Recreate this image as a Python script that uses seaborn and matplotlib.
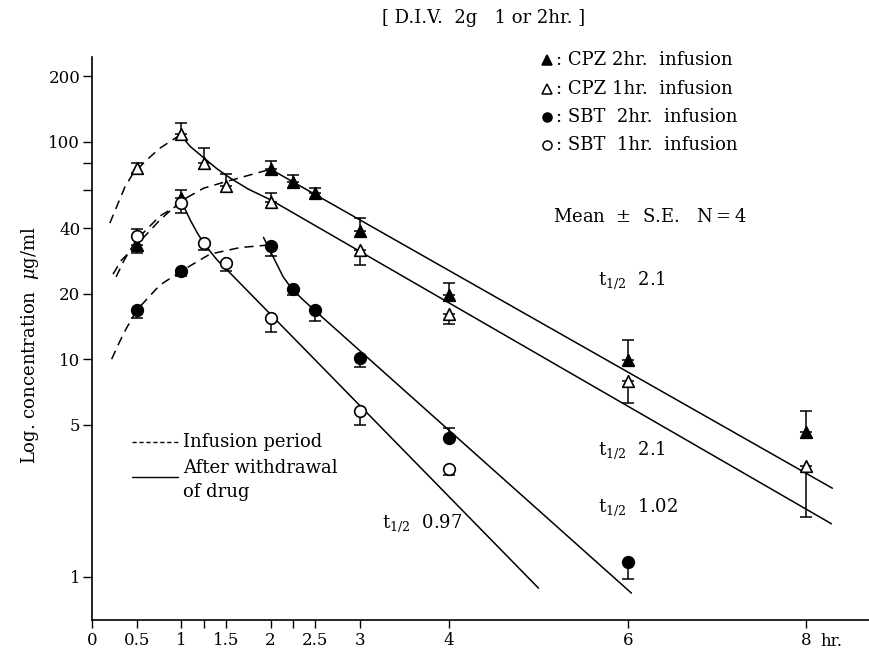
import matplotlib
matplotlib.use("Agg")
import matplotlib.pyplot as plt
from matplotlib.lines import Line2D
from matplotlib.ticker import FixedLocator, NullFormatter
import seaborn as sns


# mean serum levels (ug/ml) and the visible side of each S.E. bar
cpz2_t = [0.5, 1, 2, 2.25, 2.5, 3, 4, 6, 8]
cpz2_c = [33.5, 55, 74.7, 65.5, 57.9, 39, 19.7, 9.9, 4.64]
cpz2_up = [0, 5, 6.8, 4.9, 3.6, 5.4, 2.6, 2.3, 1.16]
cpz2_dn = [2.8, 0, 0, 0, 0, 0, 0, 0, 0]

cpz1_t = [0.5, 1, 1.25, 1.5, 2, 3, 4, 6, 8]
cpz1_c = [75.5, 108, 79.6, 62.6, 53, 31.6, 16.1, 7.9, 3.22]
cpz1_up = [4, 13.5, 13.7, 8.2, 5, 0, 0, 0, 0]
cpz1_dn = [4, 0, 0, 0, 0, 4.5, 1.6, 1.6, 1.33]

sbt2_t = [0.5, 1, 2, 2.25, 2.5, 3, 4, 6]
sbt2_c = [16.8, 25.4, 33.3, 21.0, 16.8, 10.1, 4.33, 1.17]
sbt2_up = [0, 0, 0, 0, 0, 0, 0.47, 0]
sbt2_dn = [1.3, 1.2, 3.6, 1.3, 1.8, 0.9, 0, 0.19]

sbt1_t = [0.5, 1, 1.25, 1.5, 2, 3, 4]
sbt1_c = [36.9, 52.1, 34.1, 27.6, 15.4, 5.78, 3.14]
sbt1_up = [2.8, 0, 0, 0, 0, 0, 0]
sbt1_dn = [0, 5.2, 2.3, 2.3, 2.0, 0.8, 0.2]

# fitted curves: infusion period (dashed) and after withdrawal (solid)
cpz1_inf_t = [0.2, 0.277, 0.37, 0.462, 0.613, 0.76, 0.99]
cpz1_inf_c = [42.2, 50.3, 62.1, 71.6, 82.4, 93.3, 107.5]
cpz1_post_t = [0.99, 1.1, 1.28, 1.4, 1.55, 1.75, 2.0, 8.28]
cpz1_post_c = [107.5, 95, 82.4, 75, 67.9, 60.5, 54.0, 1.75]

cpz2_inf_t = [0.235, 0.33, 0.5, 0.76, 1.0, 1.25, 1.5, 1.77, 2.0]
cpz2_inf_c = [24.6, 28.5, 33.5, 43.6, 53.5, 61.1, 65.5, 70.3, 74.7]
cpz2_post_t = [2.0, 8.29]
cpz2_post_c = [74.7, 2.55]

sbt1_inf_t = [0.27, 0.36, 0.5, 0.76, 1.0]
sbt1_inf_c = [23.9, 28.5, 35.5, 45.5, 52.1]
sbt1_post_t = [1.02, 1.1, 1.18, 1.25, 1.4, 1.55, 5.0]
sbt1_post_c = [51.2, 43.6, 38.0, 34.1, 28.6, 24.8, 0.885]

sbt2_inf_t = [0.22, 0.3, 0.37, 0.5, 0.76, 1.0, 1.32, 1.66, 1.95]
sbt2_inf_c = [10.0, 11.8, 13.5, 16.8, 21.9, 25.4, 30.4, 32.6, 33.4]
sbt2_post_t = [1.92, 1.99, 2.07, 2.14, 2.24, 2.36, 2.49, 6.04]
sbt2_post_c = [36.3, 31.8, 27.3, 23.9, 21.0, 18.8, 16.8, 0.84]

x_ticks = [0, 0.5, 1, 1.25, 1.5, 2, 2.25, 2.5, 3, 4, 6, 8]
x_labels = ["0", "0.5", "1", "", "1.5", "2", "", "2.5", "3", "4", "6", "8"]
y_ticks = [1, 5, 10, 20, 40, 100, 200]
y_minor = [60, 80]

sns.set_style("ticks", {"text.color": "black", "axes.edgecolor": "black",
                        "xtick.color": "black", "ytick.color": "black",
                        "axes.labelcolor": "black"})
plt.rcParams["font.family"] = ["DejaVu Serif"]
plt.rcParams["mathtext.fontset"] = "dejavuserif"

W, H = 869, 652
fig = plt.figure(figsize=(W / 100, H / 100), dpi=100)
ax = fig.add_axes([92 / W, 32 / H, 777 / W, 563 / H])

dash = dict(color="black", lw=1.1, linestyle=(0, (6, 4)))
solid = dict(color="black", lw=1.1)

for t, c in [(cpz1_inf_t, cpz1_inf_c), (cpz2_inf_t, cpz2_inf_c),
             (sbt1_inf_t, sbt1_inf_c), (sbt2_inf_t, sbt2_inf_c)]:
    sns.lineplot(x=t, y=c, sort=False, estimator=None, ax=ax, **dash)

for t, c in [(cpz1_post_t, cpz1_post_c), (cpz2_post_t, cpz2_post_c),
             (sbt1_post_t, sbt1_post_c), (sbt2_post_t, sbt2_post_c)]:
    sns.lineplot(x=t, y=c, sort=False, estimator=None, ax=ax, **solid)

series = [
    (cpz2_t, cpz2_c, cpz2_up, cpz2_dn, "^", "black"),
    (cpz1_t, cpz1_c, cpz1_up, cpz1_dn, "^", "white"),
    (sbt2_t, sbt2_c, sbt2_up, sbt2_dn, "o", "black"),
    (sbt1_t, sbt1_c, sbt1_up, sbt1_dn, "o", "white"),
]
for t, c, up, dn, m, fc in series:
    ax.errorbar(t, c, yerr=[dn, up], fmt="none", ecolor="black",
                elinewidth=1.1, capsize=4.5, capthick=1.1, zorder=3)
    sns.scatterplot(x=t, y=c, marker=m, s=70, color=fc, edgecolor="black",
                    linewidth=1.2, ax=ax, zorder=4)

ax.set_yscale("log")
ax.set_xlim(0, 8.7)
ax.set_ylim(0.632, 245)
ax.set_xticks(x_ticks)
ax.set_xticklabels(x_labels)
ax.set_yticks(y_ticks)
ax.set_yticklabels([str(v) for v in y_ticks])
ax.yaxis.set_minor_locator(FixedLocator(y_minor))
ax.yaxis.set_minor_formatter(NullFormatter())
ax.tick_params(axis="y", which="both", direction="out", length=6.5,
               width=1.0, pad=2, labelsize=12)
ax.tick_params(axis="x", direction="out", length=5.5, width=1.0, pad=3,
               labelsize=12)
sns.despine(ax=ax)
for s in ["left", "bottom"]:
    ax.spines[s].set_linewidth(1.2)
ax.set_xlabel("")
ax.set_ylabel("")

fs = 13
fig.text(30 / W, 1 - 345 / H, r"Log. concentration  $\mu$g/ml", rotation=90,
         ha="center", va="center", fontsize=fs)
fig.text(820 / W, 1 - 641 / H, "hr.", ha="left", va="center", fontsize=12)

fig.text(484 / W, 1 - 18 / H, "[ D.I.V.  2g   1 or 2hr. ]", ha="center",
         va="center", fontsize=fs)

legend_rows = [
    ("^", "black", ": CPZ 2hr.  infusion", 60),
    ("^", "white", ": CPZ 1hr.  infusion", 88.5),
    ("o", "black", ": SBT  2hr.  infusion", 117),
    ("o", "white", ": SBT  1hr.  infusion", 145),
]
for m, fc, label, py in legend_rows:
    fig.add_artist(Line2D([547 / W], [1 - py / H], marker=m, ms=6.5,
                          mfc=fc, mec="black", mew=1.1, ls="none",
                          transform=fig.transFigure))
    fig.text(556 / W, 1 - py / H, label, ha="left", va="center", fontsize=fs)

fig.text(553 / W, 1 - 217 / H, r"Mean  $\pm$  S.E.   N$=$4", ha="left",
         va="center", fontsize=fs)

half_lives = [("2.1", 598, 280), ("2.1", 598, 450), ("1.02", 598, 507),
              ("0.97", 382, 523)]
for val, px, py in half_lives:
    fig.text(px / W, 1 - py / H, r"t$_{1/2}$  " + val, ha="left",
             va="center", fontsize=fs)

fig.add_artist(Line2D([132 / W, 178 / W], [1 - 442 / H, 1 - 442 / H],
                      color="black", lw=1.0, linestyle=(0, (3, 2)),
                      transform=fig.transFigure))
fig.text(183 / W, 1 - 442 / H, "Infusion period", ha="left", va="center",
         fontsize=fs)
fig.add_artist(Line2D([132 / W, 178 / W], [1 - 477 / H, 1 - 477 / H],
                      color="black", lw=1.0, transform=fig.transFigure))
fig.text(183 / W, 1 - 468 / H, "After withdrawal", ha="left", va="center",
         fontsize=fs)
fig.text(183 / W, 1 - 492 / H, "of drug", ha="left", va="center",
         fontsize=fs)

fig.savefig("out.png", dpi=100)
plt.close(fig)
